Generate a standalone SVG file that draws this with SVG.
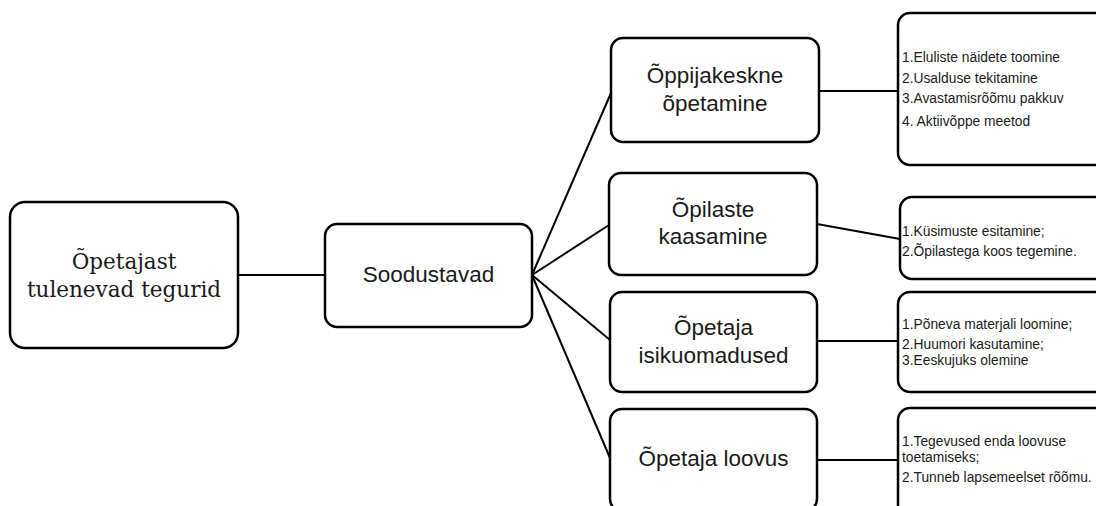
<svg xmlns="http://www.w3.org/2000/svg" width="1096" height="506" viewBox="0 0 1096 506">
<style>
.box{fill:#fff;stroke:#000;stroke-width:2.5}
.ln{stroke:#000;stroke-width:2;fill:none}
.serif{font-family:"DejaVu Serif",serif;font-size:21.5px;fill:#1a1a1a;text-anchor:middle}
.main{font-family:"Liberation Sans",Arial,sans-serif;font-size:22.5px;fill:#1a1a1a;text-anchor:middle}
.small{font-family:"Liberation Sans",Arial,sans-serif;font-size:13.8px;fill:#1a1a1a}
</style>
<rect width="1096" height="506" fill="#fff"/>
<g id="connectors">
<line class="ln" x1="238" y1="275" x2="325" y2="275"/>
<line class="ln" x1="532" y1="275" x2="611" y2="93"/>
<line class="ln" x1="532" y1="275" x2="609" y2="225"/>
<line class="ln" x1="532" y1="275" x2="610" y2="340"/>
<line class="ln" x1="532" y1="275" x2="610" y2="458"/>
<line class="ln" x1="819" y1="91" x2="898" y2="91"/>
<line class="ln" x1="817" y1="224" x2="900" y2="239"/>
<line class="ln" x1="817" y1="341" x2="898" y2="341"/>
<line class="ln" x1="817" y1="460" x2="898" y2="460"/>
</g>
<g id="node-root">
<rect class="box" x="10" y="202" width="228" height="146" rx="15"/>
<text class="serif" x="124" y="269">Õpetajast</text>
<text class="serif" x="124" y="297">tulenevad tegurid</text>
</g>
<g id="node-soodustavad">
<rect class="box" x="325" y="224" width="207" height="103" rx="12"/>
<text class="main" x="428.5" y="282">Soodustavad</text>
</g>
<g id="node-oppijakeskne">
<rect class="box" x="611" y="38" width="208" height="104" rx="12"/>
<text class="main" x="715" y="83">Õppijakeskne</text>
<text class="main" x="715" y="111">õpetamine</text>
</g>
<g id="node-opilaste">
<rect class="box" x="609" y="173" width="208" height="102" rx="12"/>
<text class="main" x="713" y="217">Õpilaste</text>
<text class="main" x="713" y="244">kaasamine</text>
</g>
<g id="node-isikuomadused">
<rect class="box" x="610" y="292" width="207" height="100" rx="12"/>
<text class="main" x="713.5" y="335">Õpetaja</text>
<text class="main" x="713.5" y="363">isikuomadused</text>
</g>
<g id="node-loovus">
<rect class="box" x="610" y="409" width="207" height="102" rx="12"/>
<text class="main" x="713.5" y="466">Õpetaja loovus</text>
</g>
<g id="node-list1">
<rect class="box" x="898" y="13" width="210" height="152" rx="12"/>
<text class="small" x="902" y="62">1.Eluliste näidete toomine</text>
<text class="small" x="902" y="83">2.Usalduse tekitamine</text>
<text class="small" x="902" y="103">3.Avastamisrõõmu pakkuv</text>
<text class="small" x="902" y="126">4. Aktiivõppe meetod</text>
</g>
<g id="node-list2">
<rect class="box" x="900" y="197" width="210" height="82" rx="12"/>
<text class="small" x="902" y="236">1.Küsimuste esitamine;</text>
<text class="small" x="902" y="256">2.Õpilastega koos tegemine.</text>
</g>
<g id="node-list3">
<rect class="box" x="898" y="292" width="210" height="100" rx="12"/>
<text class="small" x="902" y="329">1.Põneva materjali loomine;</text>
<text class="small" x="902" y="349">2.Huumori kasutamine;</text>
<text class="small" x="902" y="365">3.Eeskujuks olemine</text>
</g>
<g id="node-list4">
<rect class="box" x="898" y="408" width="210" height="110" rx="12"/>
<text class="small" x="902" y="446">1.Tegevused enda loovuse</text>
<text class="small" x="902" y="462">toetamiseks;</text>
<text class="small" x="902" y="482">2.Tunneb lapsemeelset rõõmu.</text>
</g>
</svg>
